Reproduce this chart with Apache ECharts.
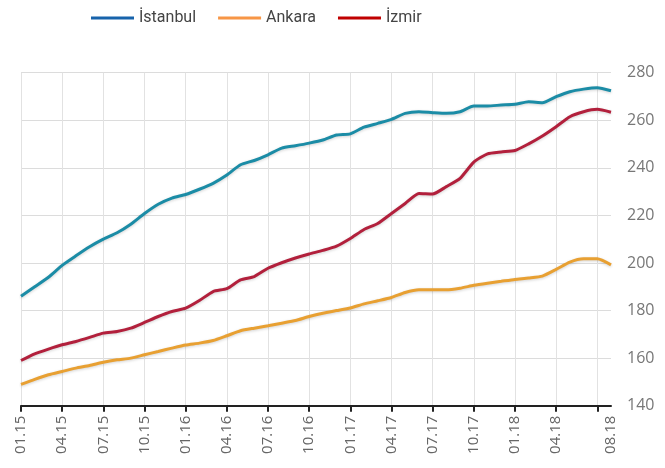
<!DOCTYPE html>
<html>
<head>
<meta charset="utf-8">
<script src="https://cdn.jsdelivr.net/npm/echarts@6/dist/echarts.min.js"></script>
<style>
  html, body { margin: 0; padding: 0; background: #fff; }
  #chart { width: 665px; height: 468px; }
</style>
</head>
<body>
<div id="chart"></div>
<script>
// Monthly index values, 01.15 – 08.18
const months = [
  '01.15','02.15','03.15','04.15','05.15','06.15','07.15','08.15','09.15','10.15','11.15','12.15',
  '01.16','02.16','03.16','04.16','05.16','06.16','07.16','08.16','09.16','10.16','11.16','12.16',
  '01.17','02.17','03.17','04.17','05.17','06.17','07.17','08.17','09.17','10.17','11.17','12.17',
  '01.18','02.18','03.18','04.18','05.18','06.18','07.18','08.18'
];

const istanbul = [186, 190, 194, 199, 203, 206.8, 210, 212.7, 216.3, 220.8, 224.7, 227.3,
  228.8, 231, 233.5, 237, 241.3, 243.1, 245.5, 248.3, 249.3, 250.4, 251.7, 253.8,
  254.3, 257.1, 258.7, 260.4, 262.9, 263.6, 263.2, 262.9, 263.6, 266, 266, 266.4,
  266.7, 267.8, 267.4, 269.9, 272, 273.1, 273.7, 272.4];

const ankara = [149, 151.1, 153, 154.4, 155.8, 156.9, 158.3, 159.3, 160, 161.4, 162.8, 164.2,
  165.5, 166.3, 167.4, 169.4, 171.5, 172.6, 173.6, 174.7, 175.8, 177.5, 178.9, 180,
  181.1, 182.8, 184.1, 185.5, 187.6, 188.7, 188.7, 188.7, 189.4, 190.6, 191.5, 192.3,
  193.1, 193.7, 194.5, 197.3, 200.4, 201.8, 201.8, 199.2];

const izmir = [159, 161.8, 163.8, 165.6, 167, 168.7, 170.5, 171.2, 172.6, 175, 177.5, 179.6,
  181, 184.2, 188, 189.2, 192.9, 194.3, 197.8, 200.1, 202.1, 203.8, 205.3, 207.1,
  210.3, 214.1, 216.6, 220.8, 225, 229.2, 229, 232.1, 235.6, 242.4, 245.9, 246.7,
  247.3, 250.1, 253.4, 257.3, 261.5, 263.6, 264.6, 263.4];

const seriesNames = ['İstanbul', 'Ankara', 'İzmir'];
const lineColors = ['#1b8ca6', '#e8a032', '#b2203c'];
const legendColors = ['#1763ab', '#f79646', '#c00000'];

const yMin = 140, yMax = 280, yStep = 20;
const lastIndex = months.length - 1;

const chart = echarts.init(document.getElementById('chart'), null, { renderer: 'canvas' });

function lineSeries(name, data, color) {
  return {
    name: name,
    type: 'line',
    data: data,
    symbol: 'none',
    smooth: 0.2,
    lineStyle: {
      color: color,
      width: 3,
      shadowColor: 'rgba(0,0,0,0.18)',
      shadowBlur: 3,
      shadowOffsetY: 1
    },
    itemStyle: { color: color }
  };
}

chart.setOption({
  animation: false,
  legend: {
    left: 86,
    top: 5,
    icon: 'rect',
    itemWidth: 43,
    itemHeight: 3,
    itemGap: 22,
    textStyle: { fontFamily: 'Roboto', fontSize: 16, color: '#444' },
    data: seriesNames.map((n, i) => ({ name: n, itemStyle: { color: legendColors[i] } }))
  },
  grid: { left: 21, right: 54, top: 72.7, bottom: 62.3 },
  xAxis: {
    type: 'category',
    data: months,
    boundaryGap: false,
    axisLine: { lineStyle: { color: '#222', width: 2 } },
    axisTick: { interval: 2, length: 6, lineStyle: { color: '#222', width: 2 } },
    axisLabel: {
      rotate: 90,
      margin: 10,
      fontFamily: 'Open Sans',
      fontSize: 15,
      color: '#666',
      interval: (idx) => idx === lastIndex || (idx % 3 === 0 && idx !== lastIndex - 1)
    },
    splitLine: { show: true, interval: 2, lineStyle: { color: '#e2e2e2', width: 1 } }
  },
  yAxis: {
    type: 'value',
    position: 'right',
    min: yMin,
    max: yMax,
    interval: yStep,
    axisLine: { show: false },
    axisTick: { show: false },
    axisLabel: { margin: 16, fontFamily: 'Open Sans', fontSize: 16, color: '#777' },
    splitLine: { lineStyle: { color: '#dcdcdc', width: 1 } }
  },
  series: [
    lineSeries(seriesNames[0], istanbul, lineColors[0]),
    lineSeries(seriesNames[1], ankara, lineColors[1]),
    lineSeries(seriesNames[2], izmir, lineColors[2])
  ]
});
</script>
</body>
</html>
